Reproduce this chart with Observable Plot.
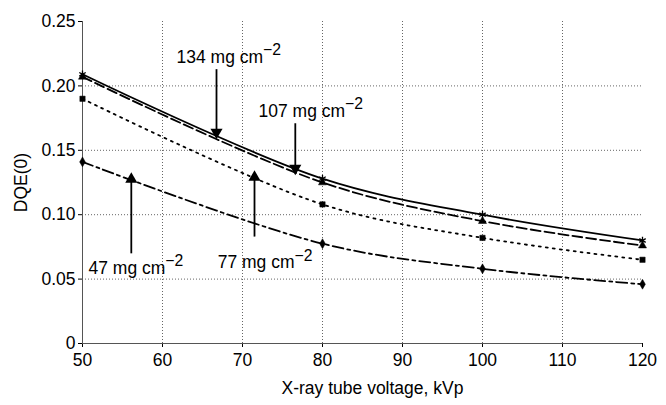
<!DOCTYPE html>
<html>
<head>
<meta charset="utf-8">
<script src="https://cdn.jsdelivr.net/npm/d3@7"></script>
<script src="https://cdn.jsdelivr.net/npm/@observablehq/plot@0.6"></script>
<style>
body { margin: 0; background: #fff; }
svg { font-family: "Liberation Sans", Arial, sans-serif; }
</style>
</head>
<body>
<div id="chart"></div>
<script>
const voltages = [50, 80, 100, 120];
const dqe134 = [0.209, 0.128, 0.100, 0.080];
const dqe107 = [0.207, 0.125, 0.095, 0.076];
const dqe77 = [0.190, 0.108, 0.082, 0.065];
const dqe47 = [0.141, 0.0775, 0.058, 0.046];

const seriesNames = ["134", "107", "77", "47"];
const seriesDash = ["none", "10,4", "2,5", "11,4,3,4"];
const seriesSymbol = ["asterisk", "triangle", "square", "diamond"];

const xTicks = [50, 60, 70, 80, 90, 100, 110, 120];
const yTicks = [0, 0.05, 0.10, 0.15, 0.20, 0.25];

// annotation arrows and labels
const arrowX = [66.75, 76.6, 56.1, 71.5];
const arrowY1 = [0.213, 0.171, 0.070, 0.083];
const arrowY2 = [0.164, 0.136, 0.1275, 0.129];
const labelText = ["134 mg cm", "107 mg cm", "47 mg cm", "77 mg cm"];
const labelSup = ["−2", "−2", "−2", "−2"];
const labelX = [61.75, 72.0, 50.75, 66.9];
const labelY = [0.2224, 0.1804, 0.0583, 0.0626];

const allVals = [dqe134, dqe107, dqe77, dqe47];
const rows = [];
allVals.forEach((vals, s) => vals.forEach((v, i) => rows.push({s, x: voltages[i], y: v})));

const arrows = arrowX.map((x, i) => ({x, y1: arrowY1[i], y2: arrowY2[i], up: arrowY2[i] > arrowY1[i]}));
const labels = labelText.map((t, i) => ({t, sup: labelSup[i], x: labelX[i], y: labelY[i]}));

const marks = [
  Plot.gridX(xTicks.slice(1, -1), {stroke: "#666", strokeOpacity: 1, strokeDasharray: "1,2"}),
  Plot.gridY(yTicks.slice(1, -1), {stroke: "#666", strokeOpacity: 1, strokeDasharray: "1,2"}),
  Plot.ruleX([50], {stroke: "#555"}),
  Plot.ruleY([0], {stroke: "#555"}),
];
seriesNames.forEach((n, s) => {
  const data = rows.filter(d => d.s === s);
  marks.push(Plot.line(data, {x: "x", y: "y", curve: "catmull-rom", stroke: "#000", strokeWidth: 1.8, strokeDasharray: seriesDash[s]}));
  marks.push(Plot.dot(data, {x: "x", y: "y", symbol: seriesSymbol[s], r: s === 0 ? 3.5 : 3, fill: s === 0 ? "none" : "#000", stroke: "#000", strokeWidth: s === 0 ? 1.3 : 0.5}));
});
marks.push(Plot.link(arrows, {x1: "x", x2: "x", y1: "y1", y2: "y2", stroke: "#000", strokeWidth: 1.8}));
marks.push(Plot.dot(arrows, {x: "x", y: "y2", symbol: "triangle", r: 4.5, fill: "#000", rotate: d => d.up ? 0 : 180}));
marks.push(Plot.text(labels, {x: "x", y: "y", text: "t", textAnchor: "start", fontSize: 17.5, fill: "#000", className: "annot"}));

const chart = Plot.plot({
  width: 666,
  height: 405,
  marginLeft: 82,
  marginRight: 24,
  marginTop: 21,
  marginBottom: 62,
  style: {fontSize: "17.5px", fontFamily: "Liberation Sans, Arial, sans-serif", color: "#000"},
  x: {domain: [50, 120], ticks: xTicks, tickFormat: d => String(d), label: "X-ray tube voltage, kVp", labelArrow: "none", labelAnchor: "center", labelOffset: 50, tickSize: 4, tickPadding: 6},
  y: {domain: [0, 0.25], ticks: yTicks, tickFormat: d => d === 0 ? "0" : d.toFixed(2), label: "DQE(0)", labelArrow: "none", labelAnchor: "center", labelOffset: 68, tickSize: 4, tickPadding: 3},
  marks
});
document.getElementById("chart").appendChild(chart);

// superscripts on annotation labels
d3.select(chart).selectAll("g.annot text").each(function(d, i) {
  d3.select(this).append("tspan").attr("dy", "-0.5em").attr("font-size", "0.9em").text(labels[i].sup);
});
// nudge x-axis title slightly right, as in the reference
d3.select(chart).selectAll('g[aria-label="x-axis label"]').attr("transform", function() {
  const t = this.getAttribute("transform") || "";
  return t + " translate(10,0)";
});
</script>
</body>
</html>
